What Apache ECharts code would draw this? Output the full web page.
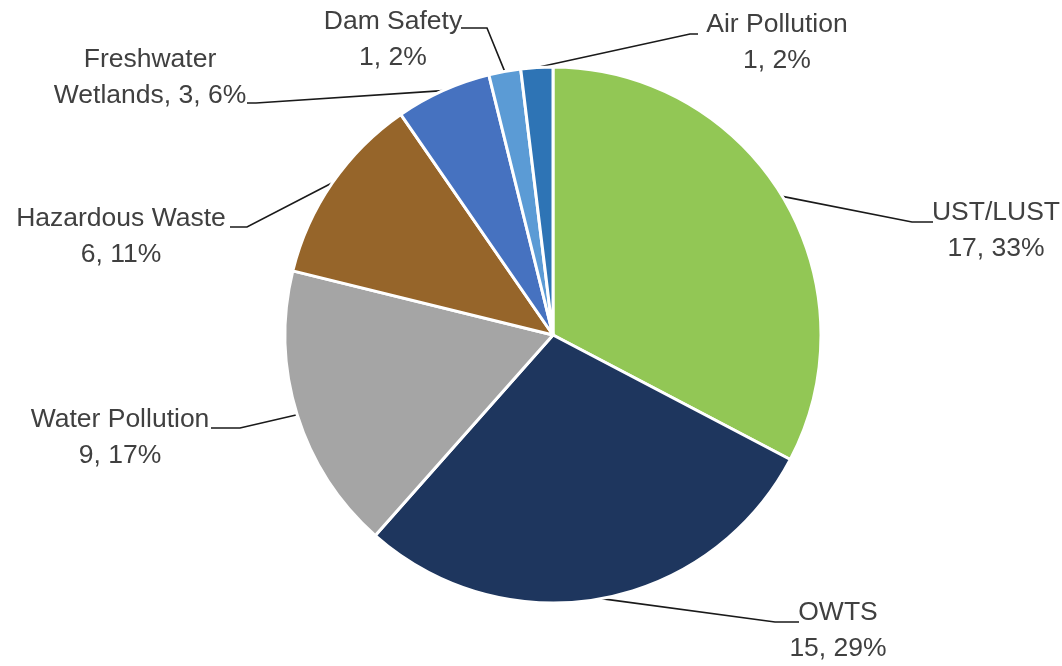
<!DOCTYPE html>
<html>
<head>
<meta charset="utf-8">
<script src="https://cdn.jsdelivr.net/npm/echarts@6/dist/echarts.min.js"></script>
<style>
html,body{margin:0;padding:0;background:#fff;}
#chart{width:1062px;height:666px;}
</style>
</head>
<body>
<div id="chart"></div>
<script>
// ---- data ----
const categories = ['UST/LUST', 'OWTS', 'Water Pollution', 'Hazardous Waste', 'Freshwater Wetlands', 'Dam Safety', 'Air Pollution'];
const counts = [17, 15, 9, 6, 3, 1, 1];
const sliceColors = ['#92C755', '#1E365E', '#A5A5A5', '#96652A', '#4672C0', '#5B9BD5', '#2E74B5'];

// ---- label layout (style: where each label box sits and where its leader line bends) ----
const labelCenter = [[996, 231], [838, 631], [120, 438], [121, 237], [150, 78], [393, 40], [777, 43]];
const lineElbow  = [[912, 222], [775, 622], [240, 428], [247, 227], [256, 103], [487, 28], [690, 34]];
const lineEnd    = [[933, 222], [799, 622], [211, 428], [230, 227], [247, 103], [461, 28], [698, 34]];

const chart = echarts.init(document.getElementById('chart'));
const seriesData = categories.map((name, i) => {
  const item = { name: name, value: counts[i], itemStyle: { color: sliceColors[i] } };
  if (name === 'Freshwater Wetlands') {
    item.label = { formatter: 'Freshwater\nWetlands, {c}, {d}%' };
  }
  return item;
});

chart.setOption({
  backgroundColor: '#ffffff',
  animation: false,
  series: [{
    type: 'pie',
    center: [553, 335],
    radius: 268,
    startAngle: 90,
    clockwise: true,
    percentPrecision: 0,
    data: seriesData,
    itemStyle: { borderColor: '#ffffff', borderWidth: 3 },
    label: {
      show: true,
      position: 'outside',
      formatter: '{b}\n{c}, {d}%',
      color: '#404040',
      fontFamily: 'Liberation Sans',
      fontSize: 26.5,
      lineHeight: 36,
      align: 'center'
    },
    labelLine: {
      show: true,
      length: 20,
      length2: 20,
      lineStyle: { color: '#1a1a1a', width: 1.6 }
    },
    labelLayout: function (params) {
      const i = params.dataIndex;
      const start = params.labelLinePoints ? params.labelLinePoints[0] : lineElbow[i];
      return {
        x: labelCenter[i][0],
        y: labelCenter[i][1],
        align: 'center',
        verticalAlign: 'middle',
        labelLinePoints: [start, lineElbow[i], lineEnd[i]]
      };
    }
  }]
});
</script>
</body>
</html>
